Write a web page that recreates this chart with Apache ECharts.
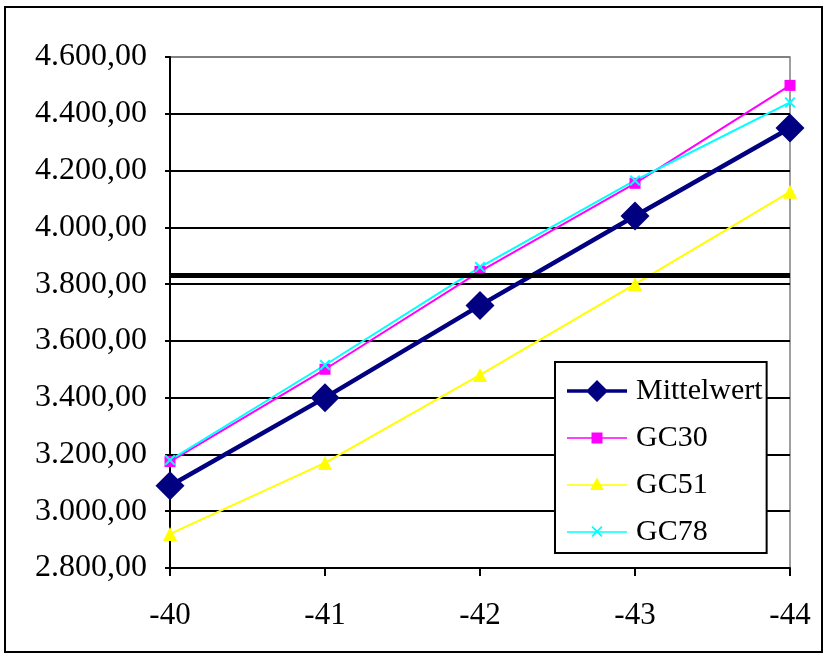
<!DOCTYPE html>
<html>
<head>
<meta charset="utf-8">
<title>Mittelwert GC30 GC51 GC78</title>
<script src="https://cdn.jsdelivr.net/npm/echarts@6/dist/echarts.min.js"></script>
<style>
  html, body { margin: 0; padding: 0; background: #fff; }
  #chart { width: 827px; height: 659px; }
</style>
</head>
<body>
<div id="chart"></div>
<script>
// Category positions along the x axis
const categories = ['-40', '-41', '-42', '-43', '-44'];

// Series values
const mittelwert = [3090, 3400, 3725, 4040, 4350];
const gc30 = [3175, 3500, 3845, 4155, 4500];
const gc51 = [2920, 3170, 3480, 3800, 4125];
const gc78 = [3180, 3515, 3860, 4165, 4440];

// Horizontal reference level
const threshold = 3830;

// Value axis range
const yMin = 2800;
const yMax = 4600;
const yStep = 200;

const FONT = '"Liberation Serif", "Times New Roman", serif';

function fmtDE(v) {
  const parts = v.toFixed(2).split('.');
  return parts[0].replace(/\B(?=(\d{3})+(?!\d))/g, '.') + ',' + parts[1];
}

// Marker shapes
const crossPath = 'path://M0,1.3L1.3,0L10,8.7L8.7,10ZM8.7,0L10,1.3L1.3,10L0,8.7Z';

// Legend icons: line stroke + marker, laid out in a 64x24 box
const pad = 'M0,0L0,0ZM64,24L64,24Z';
const legendIcons = {
  Mittelwert: 'path://' + pad + 'M0,10.2L60,10.2L60,13.8L0,13.8Z' + 'M30,1L41,12L30,23L19,12Z',
  GC30: 'path://' + pad + 'M0,11.2L60,11.2L60,12.8L0,12.8Z' + 'M24.5,6.5L35.5,6.5L35.5,17.5L24.5,17.5Z',
  GC51: 'path://' + pad + 'M0,11.2L60,11.2L60,12.8L0,12.8Z' + 'M30,4.5L37,17L23,17Z',
  GC78: 'path://' + pad + 'M0,11.2L60,11.2L60,12.8L0,12.8Z' +
        'M24.5,7.2L25.7,6L35.5,15.8L34.3,17ZM34.3,6L35.5,7.2L25.7,17L24.5,15.8Z'
};

const gridColors = [];
for (let v = yMin; v <= yMax; v += yStep) {
  gridColors.push(v === yMax ? '#808080' : '#000000');
}

const chart = echarts.init(document.getElementById('chart'), null, { renderer: 'canvas' });

chart.setOption({
  animation: false,
  backgroundColor: '#ffffff',
  textStyle: { fontFamily: FONT },
  grid: {
    left: 170, right: 37, top: 57, bottom: 91,
    show: true, borderColor: '#808080', borderWidth: 1.5, backgroundColor: 'transparent'
  },
  graphic: [{
    type: 'rect',
    shape: { x: 5, y: 7, width: 817, height: 645 },
    style: { fill: 'none', stroke: '#000', lineWidth: 2 },
    silent: true, z: -1
  }],
  legend: {
    orient: 'vertical',
    left: 555, top: 362,
    padding: [14, 4, 6, 12],
    itemWidth: 64, itemHeight: 24, itemGap: 17,
    backgroundColor: '#fff',
    borderColor: '#000', borderWidth: 2,
    textStyle: { fontFamily: FONT, fontSize: 30, color: '#000' },
    data: [
      { name: 'Mittelwert', icon: legendIcons.Mittelwert },
      { name: 'GC30', icon: legendIcons.GC30 },
      { name: 'GC51', icon: legendIcons.GC51 },
      { name: 'GC78', icon: legendIcons.GC78 }
    ]
  },
  xAxis: {
    type: 'category',
    data: categories,
    boundaryGap: false,
    axisLine: { lineStyle: { color: '#000', width: 2 } },
    axisTick: { show: true, length: 8, inside: false, lineStyle: { color: '#000', width: 2 } },
    axisLabel: { fontFamily: FONT, fontSize: 31, color: '#000', margin: 32 },
    splitLine: { show: false }
  },
  yAxis: {
    type: 'value',
    min: yMin, max: yMax, interval: yStep,
    axisLine: { show: true, lineStyle: { color: '#000', width: 2 } },
    axisTick: { show: true, length: 5, lineStyle: { color: '#000', width: 2 } },
    axisLabel: { fontFamily: FONT, fontSize: 32, color: '#000', margin: 23, formatter: fmtDE },
    splitLine: { show: true, lineStyle: { color: gridColors, width: 2 } }
  },
  series: [
    {
      name: 'Mittelwert', type: 'line', data: mittelwert,
      symbol: 'diamond', symbolSize: 29,
      lineStyle: { color: '#000080', width: 4.5 },
      itemStyle: { color: '#000080' }
    },
    {
      name: 'GC30', type: 'line', data: gc30,
      symbol: 'rect', symbolSize: 11,
      lineStyle: { color: '#FF00FF', width: 2 },
      itemStyle: { color: '#FF00FF' }
    },
    {
      name: 'GC51', type: 'line', data: gc51,
      symbol: 'triangle', symbolSize: 14,
      lineStyle: { color: '#FFFF00', width: 2 },
      itemStyle: { color: '#FFFF00' }
    },
    {
      name: 'GC78', type: 'line', data: gc78,
      symbol: crossPath, symbolSize: 11,
      lineStyle: { color: '#00FFFF', width: 2 },
      itemStyle: { color: '#00FFFF' },
      markLine: {
        silent: true,
        symbol: 'none',
        label: { show: false },
        lineStyle: { color: '#000', width: 5, type: 'solid' },
        data: [{ yAxis: threshold }]
      }
    }
  ]
});
</script>
</body>
</html>
